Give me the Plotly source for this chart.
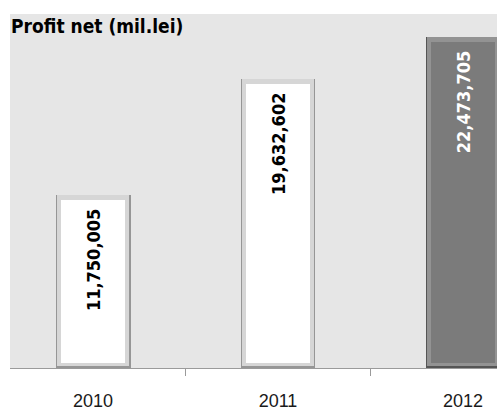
import plotly.graph_objects as go

years = ["2010", "2011", "2012"]
profit = [11750005, 19632602, 22473705]

# per-bar styling (outer bevel edge, mid bevel, face, label colour)
edge_colors = ["#969696", "#969696", "#555555"]
mid_colors = ["#d6d6d6", "#d6d6d6", "#939393"]
face_colors = ["#ffffff", "#ffffff", "#7b7b7b"]
label_colors = ["#000000", "#000000", "#ffffff"]

bevel = 320000  # bevel thickness in data units (~5 px)
narrow = "DejaVu Sans Condensed, Liberation Sans Narrow, Arial Narrow, Arial"

fig = go.Figure()
fig.add_trace(go.Bar(x=years, y=profit, width=0.405, marker=dict(color=edge_colors, line_width=0),
                     hoverinfo="skip", showlegend=False))
fig.add_trace(go.Bar(x=years, y=[v - bevel * 0.4 for v in profit], base=[bevel * 0.4] * 3, width=0.385,
                     marker=dict(color=mid_colors, line_width=0), hoverinfo="skip", showlegend=False))
fig.add_trace(go.Bar(x=years, y=[v - 2 * bevel for v in profit], base=[bevel] * 3, width=0.35,
                     marker=dict(color=face_colors, line_width=0), showlegend=False,
                     hovertemplate="%{x}: %{customdata:,}<extra></extra>", customdata=profit))

for i, (val, col) in enumerate(zip(profit, label_colors)):
    fig.add_annotation(x=i, y=val, text=f"{val:,}", textangle=-90, showarrow=False,
                       yanchor="top", yshift=-12,
                       font=dict(family=narrow, size=18, color=col, weight="bold"))

fig.add_annotation(text="Profit net (mil.lei)", xref="paper", yref="paper", x=0, y=1,
                   xanchor="left", yanchor="middle", yshift=-12, xshift=-1, showarrow=False,
                   font=dict(family=narrow, size=19, color="#000000", weight="bold"))

fig.update_layout(
    width=497, height=410,
    margin=dict(l=10, r=0, t=14, b=42),
    paper_bgcolor="#ffffff", plot_bgcolor="#e6e6e6",
    barmode="overlay", bargap=0,
    xaxis=dict(type="category", range=[-0.449, 2.184], showline=True, linecolor="#9a9a9a", linewidth=1,
               ticks="outside", tickson="boundaries", ticklen=7, tickcolor="#9a9a9a",
               ticklabelstandoff=16, showgrid=False, zeroline=False,
               tickfont=dict(family="Liberation Sans, Arial", size=18, color="#1a1a1a")),
    yaxis=dict(range=[0, 24050000], visible=False, showgrid=False, zeroline=False),
)

fig.write_html("out.html", config={"displayModeBar": False},
               post_script="document.body.style.margin='0';")
